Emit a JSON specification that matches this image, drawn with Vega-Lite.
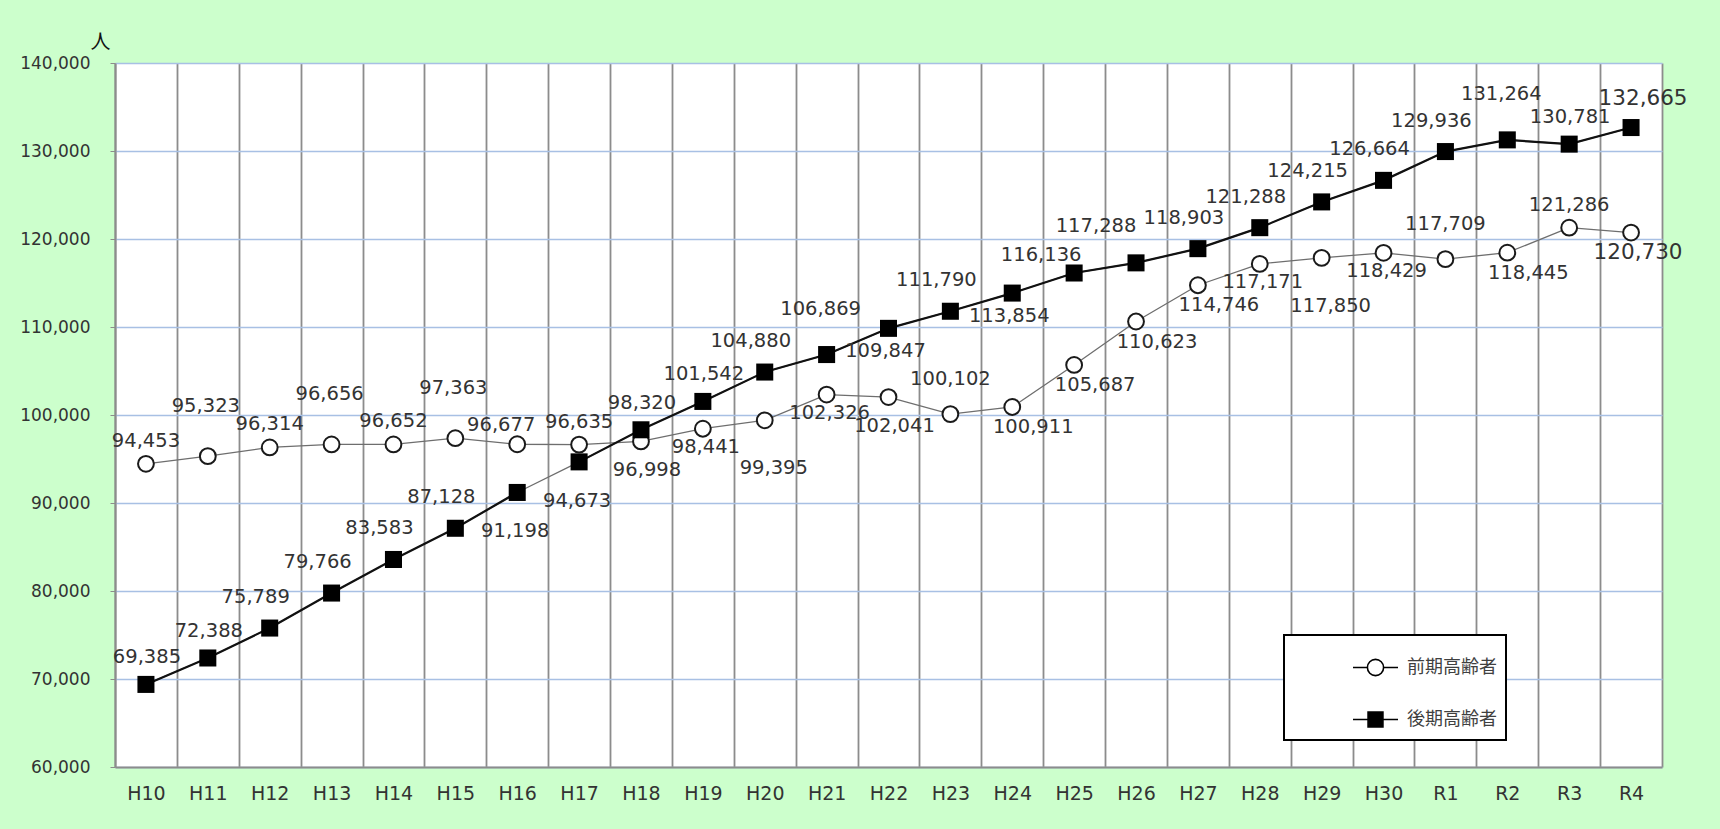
{
  "$schema": "https://vega.github.io/schema/vega-lite/v6.json",
  "autosize": {"type": "none"},
  "width": 1547,
  "height": 704,
  "padding": {"left": 115, "top": 63, "right": 58, "bottom": 62},
  "background": "#ccffcc",
  "config": {
    "view": {"fill": "white", "stroke": null},
    "font": "DejaVu Sans",
    "text": {"font": "DejaVu Sans", "fontSize": 19.5, "fill": "#333333", "align": "center", "baseline": "middle"},
    "legend": {"strokeWidth": 2}
  },
  "data": {"values": [
    {"year": "H10", "series": "前期高齢者", "value": 94453},
    {"year": "H11", "series": "前期高齢者", "value": 95323},
    {"year": "H12", "series": "前期高齢者", "value": 96314},
    {"year": "H13", "series": "前期高齢者", "value": 96656},
    {"year": "H14", "series": "前期高齢者", "value": 96652},
    {"year": "H15", "series": "前期高齢者", "value": 97363},
    {"year": "H16", "series": "前期高齢者", "value": 96677},
    {"year": "H17", "series": "前期高齢者", "value": 96635},
    {"year": "H18", "series": "前期高齢者", "value": 96998},
    {"year": "H19", "series": "前期高齢者", "value": 98441},
    {"year": "H20", "series": "前期高齢者", "value": 99395},
    {"year": "H21", "series": "前期高齢者", "value": 102326},
    {"year": "H22", "series": "前期高齢者", "value": 102041},
    {"year": "H23", "series": "前期高齢者", "value": 100102},
    {"year": "H24", "series": "前期高齢者", "value": 100911},
    {"year": "H25", "series": "前期高齢者", "value": 105687},
    {"year": "H26", "series": "前期高齢者", "value": 110623},
    {"year": "H27", "series": "前期高齢者", "value": 114746},
    {"year": "H28", "series": "前期高齢者", "value": 117171},
    {"year": "H29", "series": "前期高齢者", "value": 117850},
    {"year": "H30", "series": "前期高齢者", "value": 118429},
    {"year": "R1", "series": "前期高齢者", "value": 117709},
    {"year": "R2", "series": "前期高齢者", "value": 118445},
    {"year": "R3", "series": "前期高齢者", "value": 121286},
    {"year": "R4", "series": "前期高齢者", "value": 120730},
    {"year": "H10", "series": "後期高齢者", "value": 69385},
    {"year": "H11", "series": "後期高齢者", "value": 72388},
    {"year": "H12", "series": "後期高齢者", "value": 75789},
    {"year": "H13", "series": "後期高齢者", "value": 79766},
    {"year": "H14", "series": "後期高齢者", "value": 83583},
    {"year": "H15", "series": "後期高齢者", "value": 87128},
    {"year": "H16", "series": "後期高齢者", "value": 91198},
    {"year": "H17", "series": "後期高齢者", "value": 94673},
    {"year": "H18", "series": "後期高齢者", "value": 98320},
    {"year": "H19", "series": "後期高齢者", "value": 101542},
    {"year": "H20", "series": "後期高齢者", "value": 104880},
    {"year": "H21", "series": "後期高齢者", "value": 106869},
    {"year": "H22", "series": "後期高齢者", "value": 109847},
    {"year": "H23", "series": "後期高齢者", "value": 111790},
    {"year": "H24", "series": "後期高齢者", "value": 113854},
    {"year": "H25", "series": "後期高齢者", "value": 116136},
    {"year": "H26", "series": "後期高齢者", "value": 117288},
    {"year": "H27", "series": "後期高齢者", "value": 118903},
    {"year": "H28", "series": "後期高齢者", "value": 121288},
    {"year": "H29", "series": "後期高齢者", "value": 124215},
    {"year": "H30", "series": "後期高齢者", "value": 126664},
    {"year": "R1", "series": "後期高齢者", "value": 129936},
    {"year": "R2", "series": "後期高齢者", "value": 131264},
    {"year": "R3", "series": "後期高齢者", "value": 130781},
    {"year": "R4", "series": "後期高齢者", "value": 132665}
  ]},
  "encoding": {
    "x": {
      "field": "year", "type": "nominal",
      "sort": ["H10","H11","H12","H13","H14","H15","H16","H17","H18","H19","H20","H21","H22","H23","H24","H25","H26","H27","H28","H29","H30","R1","R2","R3","R4"],
      "scale": {"type": "band", "paddingInner": 0, "paddingOuter": 0},
      "axis": {"title": null, "labelAngle": 0, "tickBand": "extent", "grid": true, "gridColor": "#8c8c8c", "gridWidth": 1.8, "ticks": false, "domain": true, "domainColor": "#8c8c8c", "domainWidth": 2, "labelPadding": 17, "labelFont": "DejaVu Sans", "labelFontSize": 19, "labelColor": "#333333"}
    },
    "y": {
      "field": "value", "type": "quantitative",
      "scale": {"domain": [60000, 140000], "nice": false},
      "axis": {"title": "人", "titleAngle": 0, "titleX": -15, "titleY": -21, "titleAlign": "center", "titleBaseline": "middle", "titleFont": "Noto Sans CJK JP", "titleFontSize": 20, "titleFontWeight": "normal", "titleColor": "#111111", "values": [60000,70000,80000,90000,100000,110000,120000,130000,140000], "format": ",d", "grid": true, "gridColor": "#a8c0e4", "gridWidth": 1.3, "domain": true, "domainColor": "#8c8c8c", "domainWidth": 2, "ticks": true, "tickColor": "#8c8c8c", "tickSize": 5, "labelPadding": 20, "labelFont": "DejaVu Sans", "labelFontSize": 17, "labelColor": "#333333"}
    }
  },
  "layer": [
    {"transform": [{"filter": {"field": "series", "equal": "前期高齢者"}}], "mark": {"type": "line", "stroke": "#6e6e6e", "strokeWidth": 1.3}},
    {"transform": [{"filter": {"field": "series", "equal": "後期高齢者"}}], "mark": {"type": "line", "stroke": "#6e6e6e", "strokeWidth": 1.3}},
    {"transform": [{"filter": {"and": [{"field": "series", "equal": "後期高齢者"}, {"field": "year", "oneOf": ["H10","H11","H12","H13","H14","H15","H16"]}]}}], "mark": {"type": "line", "stroke": "#111111", "strokeWidth": 2.2}},
    {"transform": [{"filter": {"and": [{"field": "series", "equal": "後期高齢者"}, {"field": "year", "oneOf": ["H17","H18","H19","H20","H21","H22","H23","H24","H25","H26","H27","H28","H29","H30","R1","R2","R3","R4"]}]}}], "mark": {"type": "line", "stroke": "#111111", "strokeWidth": 2.2}},
    {"transform": [{"filter": {"field": "series", "equal": "前期高齢者"}}], "mark": {"type": "point", "shape": "circle", "filled": false, "fill": "white", "fillOpacity": 1, "stroke": "#1a1a1a", "strokeWidth": 2, "opacity": 1, "size": 250}},
    {"transform": [{"filter": {"field": "series", "equal": "後期高齢者"}}], "mark": {"type": "point", "shape": "square", "filled": true, "fill": "#000000", "opacity": 1, "size": 290}},
    {"transform": [{"filter": {"field": "value", "lt": 0}}],
     "mark": {"type": "point", "stroke": "#000000", "strokeWidth": 1.6, "opacity": 1},
     "encoding": {
       "shape": {"field": "series", "type": "nominal",
         "scale": {"domain": ["前期高齢者", "後期高齢者"], "range": ["M-1,0H-0.36M0.36,0H1M-0.36,0A0.36,0.36,0,1,1,0.36,0A0.36,0.36,0,1,1,-0.36,0Z", "M-1,0H1M-0.33,-0.33H0.33V0.33H-0.33Z"]},
         "legend": {"title": null, "orient": "none", "legendX": 1169, "legendY": 572, "padding": 9, "rowPadding": 17, "symbolOffset": 59, "labelOffset": 8, "symbolSize": 2025, "symbolStrokeWidth": 1.6, "symbolStrokeColor": "#000000", "symbolOpacity": 1, "strokeColor": "#000000", "fillColor": "white", "labelFont": "Noto Sans CJK JP", "labelFontSize": 18, "labelColor": "#404040", "labelExpr": "datum.label + '　　 '", "labelLimit": 400}},
       "fill": {"field": "series", "type": "nominal",
         "scale": {"domain": ["前期高齢者", "後期高齢者"], "range": ["white", "black"]},
         "legend": {"title": null, "orient": "none", "legendX": 1169, "legendY": 572, "padding": 9, "rowPadding": 17, "symbolOffset": 59, "labelOffset": 8, "symbolSize": 2025, "symbolStrokeWidth": 1.6, "symbolStrokeColor": "#000000", "symbolOpacity": 1, "strokeColor": "#000000", "fillColor": "white", "labelFont": "Noto Sans CJK JP", "labelFontSize": 18, "labelColor": "#404040", "labelExpr": "datum.label + '　　 '", "labelLimit": 400}},
       "stroke": {"field": "series", "type": "nominal",
         "scale": {"domain": ["前期高齢者", "後期高齢者"], "range": ["black", "black"]},
         "legend": {"title": null, "orient": "none", "legendX": 1169, "legendY": 572, "padding": 9, "rowPadding": 17, "symbolOffset": 59, "labelOffset": 8, "symbolSize": 2025, "symbolStrokeWidth": 1.6, "symbolStrokeColor": "#000000", "symbolOpacity": 1, "strokeColor": "#000000", "fillColor": "white", "labelFont": "Noto Sans CJK JP", "labelFontSize": 18, "labelColor": "#404040", "labelExpr": "datum.label + '　　 '", "labelLimit": 400}}
     }
    },
    {"transform": [{"filter": {"and": [{"field": "series", "equal": "前期高齢者"}, {"field": "year", "oneOf": ["H10","H12","H14","H17","R3"]}]}}], "mark": {"type": "text", "dx": 0, "dy": -23}, "encoding": {"text": {"field": "value", "type": "quantitative", "format": ","}}},
    {"transform": [{"filter": {"and": [{"field": "series", "equal": "前期高齢者"}, {"field": "year", "oneOf": ["H11","H13","H15"]}]}}], "mark": {"type": "text", "dx": -2, "dy": -50}, "encoding": {"text": {"field": "value", "type": "quantitative", "format": ","}}},
    {"transform": [{"filter": {"and": [{"field": "series", "equal": "前期高齢者"}, {"field": "year", "oneOf": ["H16"]}]}}], "mark": {"type": "text", "dx": -16, "dy": -19}, "encoding": {"text": {"field": "value", "type": "quantitative", "format": ","}}},
    {"transform": [{"filter": {"and": [{"field": "series", "equal": "前期高齢者"}, {"field": "year", "oneOf": ["H23","R1"]}]}}], "mark": {"type": "text", "dx": 0, "dy": -35}, "encoding": {"text": {"field": "value", "type": "quantitative", "format": ","}}},
    {"transform": [{"filter": {"and": [{"field": "series", "equal": "前期高齢者"}, {"field": "year", "oneOf": ["H19","H21","H28","H30"]}]}}], "mark": {"type": "text", "dx": 3, "dy": 18}, "encoding": {"text": {"field": "value", "type": "quantitative", "format": ","}}},
    {"transform": [{"filter": {"and": [{"field": "series", "equal": "前期高齢者"}, {"field": "year", "oneOf": ["H24","H25","H26","H27","R2"]}]}}], "mark": {"type": "text", "dx": 21, "dy": 20}, "encoding": {"text": {"field": "value", "type": "quantitative", "format": ","}}},
    {"transform": [{"filter": {"and": [{"field": "series", "equal": "前期高齢者"}, {"field": "year", "oneOf": ["H18","H22"]}]}}], "mark": {"type": "text", "dx": 6, "dy": 29}, "encoding": {"text": {"field": "value", "type": "quantitative", "format": ","}}},
    {"transform": [{"filter": {"and": [{"field": "series", "equal": "前期高齢者"}, {"field": "year", "oneOf": ["H20","H29"]}]}}], "mark": {"type": "text", "dx": 9, "dy": 48}, "encoding": {"text": {"field": "value", "type": "quantitative", "format": ","}}},
    {"transform": [{"filter": {"and": [{"field": "series", "equal": "前期高齢者"}, {"field": "year", "oneOf": ["R4"]}]}}], "mark": {"type": "text", "dx": 7, "dy": 20, "fontSize": 21.5}, "encoding": {"text": {"field": "value", "type": "quantitative", "format": ","}}},
    {"transform": [{"filter": {"and": [{"field": "series", "equal": "後期高齢者"}, {"field": "year", "oneOf": ["H10","H11","H18","H19","R3"]}]}}], "mark": {"type": "text", "dx": 1, "dy": -27}, "encoding": {"text": {"field": "value", "type": "quantitative", "format": ","}}},
    {"transform": [{"filter": {"and": [{"field": "series", "equal": "後期高齢者"}, {"field": "year", "oneOf": ["H12","H13","H14","H15","H20","H23","H27","H28","H29","H30","R1"]}]}}], "mark": {"type": "text", "dx": -14, "dy": -31}, "encoding": {"text": {"field": "value", "type": "quantitative", "format": ","}}},
    {"transform": [{"filter": {"and": [{"field": "series", "equal": "後期高齢者"}, {"field": "year", "oneOf": ["H21","R2"]}]}}], "mark": {"type": "text", "dx": -6, "dy": -46}, "encoding": {"text": {"field": "value", "type": "quantitative", "format": ","}}},
    {"transform": [{"filter": {"and": [{"field": "series", "equal": "後期高齢者"}, {"field": "year", "oneOf": ["H16","H17"]}]}}], "mark": {"type": "text", "dx": -2, "dy": 39}, "encoding": {"text": {"field": "value", "type": "quantitative", "format": ","}}},
    {"transform": [{"filter": {"and": [{"field": "series", "equal": "後期高齢者"}, {"field": "year", "oneOf": ["H22","H24"]}]}}], "mark": {"type": "text", "dx": -3, "dy": 23}, "encoding": {"text": {"field": "value", "type": "quantitative", "format": ","}}},
    {"transform": [{"filter": {"and": [{"field": "series", "equal": "後期高齢者"}, {"field": "year", "oneOf": ["H25"]}]}}], "mark": {"type": "text", "dx": -33, "dy": -18}, "encoding": {"text": {"field": "value", "type": "quantitative", "format": ","}}},
    {"transform": [{"filter": {"and": [{"field": "series", "equal": "後期高齢者"}, {"field": "year", "oneOf": ["H26"]}]}}], "mark": {"type": "text", "dx": -40, "dy": -37}, "encoding": {"text": {"field": "value", "type": "quantitative", "format": ","}}},
    {"transform": [{"filter": {"and": [{"field": "series", "equal": "後期高齢者"}, {"field": "year", "oneOf": ["R4"]}]}}], "mark": {"type": "text", "dx": 12, "dy": -29, "fontSize": 21.5}, "encoding": {"text": {"field": "value", "type": "quantitative", "format": ","}}}
  ]
}
